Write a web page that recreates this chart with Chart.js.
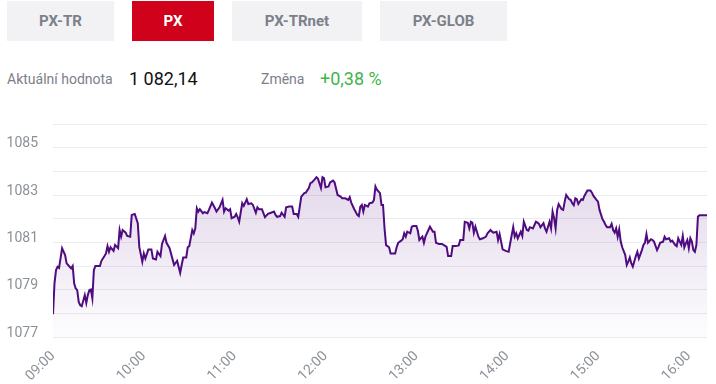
<!DOCTYPE html>
<html>
<head>
<meta charset="utf-8">
<script src="https://cdn.jsdelivr.net/npm/chart.js@4.4.1/dist/chart.umd.min.js"></script>
<style>
  html, body { margin: 0; padding: 0; background: #fff; font-family: Roboto, sans-serif; }
  #page { position: relative; width: 716px; height: 384px; overflow: hidden; }
  .tab { position: absolute; top: 1px; height: 40px; line-height: 40px; text-align: center;
         font-size: 15px; font-weight: 700; color: #7b8089; background: #f2f2f5; }
  .tab.active { background: #d0021b; color: #fff; }
  .info { position: absolute; top: 67px; height: 24px; line-height: 24px; white-space: nowrap; }
  .lbl { font-size: 14px; color: #7b8089; }
  .val { font-size: 18px; color: #111; }
  .chg { font-size: 18px; color: #3fb54a; }
  #chartBox { position: absolute; left: 0; top: 110px; width: 716px; height: 274px; }
</style>
</head>
<body>
<div id="page">
  <div class="tab" style="left:7px;width:107px">PX-TR</div>
  <div class="tab active" style="left:132px;width:82px">PX</div>
  <div class="tab" style="left:232px;width:130px">PX-TRnet</div>
  <div class="tab" style="left:380px;width:127px">PX-GLOB</div>

  <div class="info lbl" style="left:7px">Aktuální hodnota</div>
  <div class="info val" style="left:129px">1 082,14</div>
  <div class="info lbl" style="left:261px">Změna</div>
  <div class="info chg" style="left:320px">+0,38 %</div>

  <div id="chartBox"><canvas id="chart"></canvas></div>
</div>
<script>
// minutes after 09:00 for each quote
const minutes = [
  0, 1, 2, 3, 4, 5, 6, 8, 9, 11,
  12, 13, 14, 15, 16, 17, 18, 19, 21, 22,
  23, 24, 25, 26, 27, 28, 31, 32, 34, 35,
  36, 37, 38, 40, 41, 43, 44, 45, 46, 48,
  49, 51, 52, 54, 56, 57, 59, 60, 61, 63,
  65, 66, 68, 69, 71, 72, 74, 75, 77, 79,
  80, 82, 84, 85, 86, 88, 89, 90, 92, 93,
  94, 95, 96, 97, 99, 100, 102, 103, 105, 107,
  108, 110, 112, 113, 114, 116, 117, 118, 120, 121,
  122, 123, 125, 126, 128, 129, 131, 132, 134, 135,
  136, 138, 139, 140, 142, 144, 146, 147, 148, 150,
  151, 153, 154, 156, 158, 159, 161, 162, 164, 166,
  167, 169, 170, 171, 173, 174, 175, 177, 178, 179,
  180, 182, 183, 185, 186, 188, 190, 191, 193, 195,
  196, 197, 199, 201, 202, 203, 204, 205, 206, 208,
  209, 211, 212, 213, 214, 216, 217, 218, 219, 220,
  222, 223, 226, 227, 228, 230, 231, 232, 233, 234,
  236, 237, 238, 240, 241, 242, 244, 245, 246, 248,
  249, 251, 252, 253, 255, 257, 260, 261, 263, 264,
  266, 268, 269, 271, 272, 274, 275, 276, 277, 278,
  279, 281, 282, 284, 286, 287, 289, 290, 291, 293,
  294, 295, 296, 297, 299, 301, 302, 304, 305, 306,
  307, 308, 309, 310, 311, 313, 314, 315, 317, 319,
  320, 321, 322, 324, 325, 326, 328, 329, 330, 331,
  332, 333, 334, 336, 337, 338, 339, 341, 342, 343,
  344, 345, 346, 347, 349, 350, 351, 353, 355, 356,
  357, 359, 360, 361, 363, 364, 365, 366, 368, 369,
  370, 371, 372, 373, 374, 375, 376, 378, 379, 380,
  381, 382, 383, 385, 386, 387, 389, 390, 391, 392,
  393, 395, 396, 397, 399, 400, 401, 403, 404, 405,
  407, 408, 409, 411, 412, 413, 414, 415, 416, 417,
  418, 419, 420, 421, 422, 423, 424, 425, 426, 427,
  432
];

const pxValues = [
  1077.96, 1079.28, 1079.83, 1079.97, 1079.92, 1080.33, 1080.75, 1080.46, 1080.11, 1079.97,
  1079.90, 1080.00, 1079.26, 1079.05, 1078.98, 1078.48, 1078.34, 1078.30, 1078.77, 1078.44,
  1078.77, 1078.98, 1079.01, 1078.63, 1079.83, 1080.00, 1080.00, 1080.22, 1080.42, 1080.53,
  1080.84, 1080.60, 1080.79, 1080.64, 1080.89, 1080.75, 1081.52, 1081.24, 1081.52, 1081.41,
  1081.27, 1081.24, 1082.16, 1082.20, 1081.81, 1080.81, 1080.18, 1080.53, 1080.32, 1080.70,
  1080.70, 1080.32, 1080.28, 1080.60, 1080.42, 1080.93, 1081.27, 1080.98, 1080.75, 1080.28,
  1080.04, 1080.22, 1079.71, 1080.04, 1080.36, 1080.36, 1080.79, 1080.84, 1081.52, 1081.38,
  1081.59, 1082.44, 1082.30, 1082.40, 1082.23, 1082.28, 1082.23, 1082.37, 1082.68, 1082.44,
  1082.30, 1082.48, 1082.79, 1082.30, 1082.44, 1082.34, 1082.40, 1082.02, 1082.08, 1082.20,
  1082.06, 1081.87, 1082.65, 1082.54, 1082.82, 1082.62, 1082.65, 1082.59, 1082.25, 1082.48,
  1082.40, 1082.40, 1082.23, 1082.06, 1082.20, 1082.25, 1082.30, 1082.16, 1082.08, 1082.11,
  1082.25, 1082.08, 1082.48, 1082.51, 1082.51, 1082.20, 1082.20, 1082.08, 1082.93, 1083.08,
  1083.10, 1083.29, 1083.50, 1083.53, 1083.67, 1083.75, 1083.69, 1083.29, 1083.75, 1083.71,
  1083.33, 1083.36, 1083.53, 1083.61, 1083.53, 1083.00, 1082.93, 1082.86, 1082.86, 1082.79,
  1082.91, 1082.68, 1082.40, 1082.16, 1082.11, 1082.51, 1082.58, 1082.30, 1082.58, 1082.51,
  1082.65, 1082.68, 1082.79, 1083.36, 1083.22, 1083.08, 1082.58, 1082.58, 1081.59, 1080.88,
  1080.79, 1080.53, 1080.53, 1080.79, 1080.98, 1081.07, 1081.13, 1081.38, 1081.24, 1081.45,
  1081.38, 1081.66, 1081.69, 1081.69, 1081.49, 1081.10, 1081.24, 1080.98, 1081.24, 1081.52,
  1081.66, 1081.45, 1081.45, 1080.98, 1080.93, 1080.93, 1080.81, 1080.42, 1080.42, 1080.84,
  1080.84, 1080.87, 1081.10, 1081.10, 1081.87, 1081.83, 1081.59, 1081.87, 1081.83, 1081.41,
  1081.66, 1081.24, 1081.13, 1081.17, 1081.24, 1081.38, 1081.52, 1081.45, 1081.41, 1081.45,
  1081.10, 1081.35, 1081.03, 1080.70, 1080.64, 1080.60, 1080.96, 1081.64, 1081.24, 1081.38,
  1081.17, 1081.31, 1081.45, 1081.27, 1081.87, 1081.52, 1081.49, 1081.64, 1081.59, 1081.87,
  1081.83, 1081.78, 1081.64, 1081.81, 1081.59, 1081.45, 1081.87, 1081.59, 1082.30, 1082.02,
  1081.59, 1082.37, 1082.62, 1082.40, 1082.37, 1082.72, 1083.00, 1082.82, 1082.79, 1082.65,
  1082.57, 1082.86, 1082.82, 1082.62, 1082.82, 1082.79, 1082.96, 1083.19, 1083.19, 1083.10,
  1082.96, 1082.79, 1082.72, 1082.37, 1081.97, 1081.87, 1081.73, 1081.64, 1081.64, 1081.78,
  1081.52, 1081.41, 1081.59, 1081.24, 1081.55, 1081.03, 1080.79, 1080.46, 1080.04, 1080.18,
  1080.36, 1080.11, 1079.97, 1080.42, 1080.60, 1080.32, 1080.67, 1080.89, 1080.98, 1081.35,
  1080.98, 1081.13, 1081.10, 1081.03, 1080.67, 1080.81, 1080.98, 1081.03, 1081.24, 1081.13,
  1081.17, 1081.03, 1081.07, 1080.89, 1080.84, 1081.17, 1081.03, 1080.89, 1081.27, 1080.79,
  1080.96, 1081.10, 1080.75, 1081.17, 1081.03, 1080.67, 1080.60, 1080.89, 1082.08, 1082.14,
  1082.14
];

const hourLabels = ['09:00', '10:00', '11:00', '12:00', '13:00', '14:00', '15:00', '16:00'];
const yLabelValues = [1077, 1079, 1081, 1083, 1085];

const points = minutes.map((m, i) => ({ x: m, y: pxValues[i] }));

function areaGradient(context) {
  const { ctx, chartArea } = context.chart;
  if (!chartArea) return 'rgba(110, 50, 150, 0.15)';
  const g = ctx.createLinearGradient(0, chartArea.top, 0, chartArea.bottom);
  g.addColorStop(0, 'rgba(105, 45, 145, 0.24)');
  g.addColorStop(1, 'rgba(105, 45, 145, 0.01)');
  return g;
}

const ctx = document.getElementById('chart').getContext('2d');
new Chart(ctx, {
  type: 'line',
  data: {
    datasets: [{
      data: points,
      borderColor: '#4f0c80',
      borderWidth: 2,
      backgroundColor: areaGradient,
      fill: 'start',
      pointRadius: 0,
      tension: 0
    }]
  },
  options: {
    responsive: true,
    maintainAspectRatio: false,
    animation: false,
    layout: { padding: { top: 14, right: 9, left: 0, bottom: 0 } },
    plugins: { legend: { display: false }, tooltip: { enabled: false } },
    scales: {
      x: {
        type: 'linear',
        min: 0,
        max: 432,
        grid: { display: false },
        border: { display: false },
        ticks: {
          stepSize: 60,
          includeBounds: false,
          autoSkip: false,
          minRotation: 45,
          maxRotation: 45,
          padding: 3,
          color: '#8b9099',
          font: { family: 'Roboto', size: 14 },
          callback: (v) => (v % 60 === 0 ? hourLabels[v / 60] : '')
        },
        afterFit: (scale) => { scale.height = 47; scale.paddingLeft = 0; scale.paddingRight = 0; }
      },
      y: {
        min: 1077,
        max: 1086,
        grid: { color: '#ececf1', lineWidth: 1, drawTicks: false },
        border: { display: false },
        ticks: {
          stepSize: 1,
          padding: 15,
          labelOffset: -4,
          color: '#8b9099',
          font: { family: 'Roboto', size: 14 },
          callback: (v) => (yLabelValues.includes(v) ? String(v) : '')
        },
        afterFit: (scale) => { scale.width = 53; scale.paddingTop = 0; scale.paddingBottom = 0; }
      }
    }
  }
});
</script>
</body>
</html>
